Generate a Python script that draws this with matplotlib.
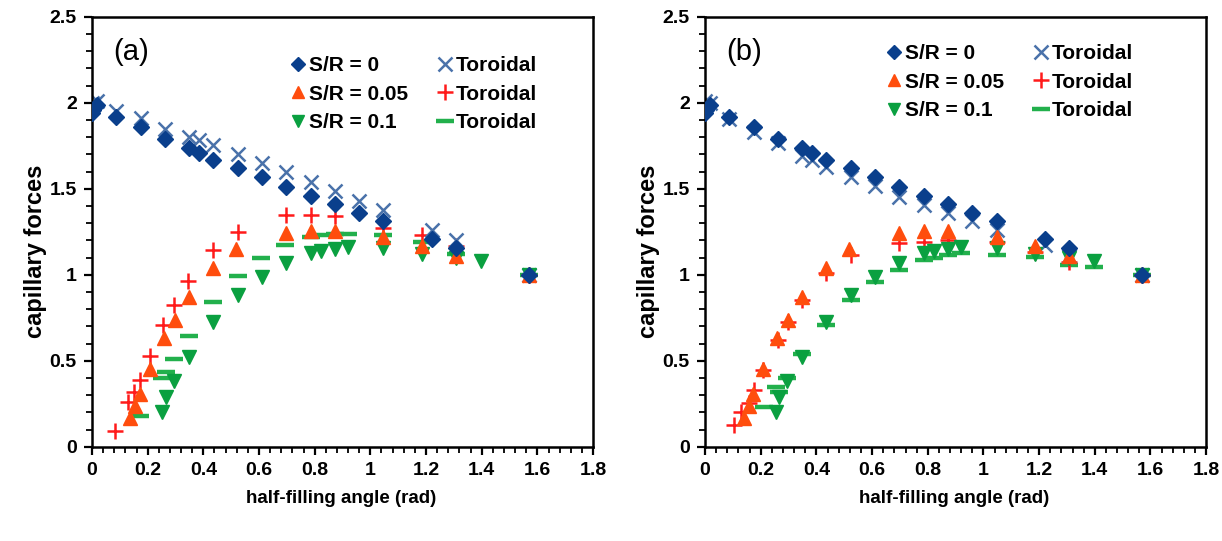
import numpy as np
import matplotlib.pyplot as plt
from matplotlib.ticker import MultipleLocator

plt.rcParams['font.family'] = ['Liberation Sans', 'DejaVu Sans']

# sphere model (same in both panels)
th_s0 = [0.0, 0.005, 0.017, 0.087, 0.175, 0.262, 0.349, 0.384, 0.436, 0.524, 0.611, 0.698,
         0.785, 0.873, 0.96, 1.047, 1.222, 1.309, 1.571]
f_s0 = [1.94, 1.96, 1.99, 1.92, 1.86, 1.79, 1.74, 1.71, 1.67, 1.62, 1.57, 1.51,
        1.46, 1.41, 1.36, 1.31, 1.21, 1.155, 1.0]
th_s05 = [0.138, 0.156, 0.173, 0.207, 0.26, 0.297, 0.348, 0.435, 0.517, 0.698, 0.785, 0.873,
          1.047, 1.187, 1.309, 1.571]
f_s05 = [0.17, 0.24, 0.31, 0.45, 0.63, 0.74, 0.87, 1.04, 1.15, 1.245, 1.255, 1.255,
         1.22, 1.17, 1.11, 1.0]
th_s1 = [0.253, 0.267, 0.296, 0.349, 0.436, 0.524, 0.611, 0.698, 0.785, 0.823, 0.873, 0.92,
         1.047, 1.187, 1.309, 1.396, 1.571]
f_s1 = [0.205, 0.29, 0.385, 0.525, 0.728, 0.884, 0.99, 1.07, 1.126, 1.141, 1.149, 1.16,
        1.155, 1.12, 1.095, 1.08, 1.0]

# toroidal approximation, panel (a)
tha_t0 = [0.0, 0.017, 0.087, 0.175, 0.262, 0.349, 0.384, 0.436, 0.524, 0.611, 0.698, 0.785,
          0.873, 0.96, 1.047, 1.222, 1.309, 1.571]
fa_t0 = [2.0, 2.01, 1.95, 1.91, 1.85, 1.80, 1.785, 1.756, 1.70, 1.65, 1.595, 1.54,
         1.49, 1.43, 1.375, 1.26, 1.20, 1.0]
tha_t05 = [0.083, 0.131, 0.15, 0.171, 0.207, 0.255, 0.293, 0.344, 0.435, 0.523, 0.698, 0.785,
           0.873, 1.047, 1.184, 1.309, 1.571]
fa_t05 = [0.09, 0.26, 0.32, 0.39, 0.53, 0.71, 0.826, 0.967, 1.145, 1.25, 1.35, 1.35,
          1.34, 1.27, 1.233, 1.165, 1.0]
tha_t1 = [0.173, 0.25, 0.267, 0.293, 0.348, 0.435, 0.523, 0.607, 0.694, 0.785, 0.823, 0.873,
          0.92, 1.047, 1.184, 1.309, 1.571]
fa_t1 = [0.182, 0.40, 0.438, 0.51, 0.645, 0.84, 0.994, 1.097, 1.174, 1.22, 1.23, 1.238,
         1.24, 1.233, 1.19, 1.12, 1.0]

# toroidal approximation, panel (b)
thb_t0 = [0.0, 0.017, 0.087, 0.175, 0.262, 0.349, 0.384, 0.436, 0.524, 0.611, 0.698, 0.785,
          0.873, 0.96, 1.047, 1.222, 1.309, 1.571]
fb_t0 = [2.01, 2.0, 1.905, 1.83, 1.765, 1.69, 1.67, 1.626, 1.57, 1.517, 1.455, 1.407,
         1.358, 1.31, 1.262, 1.174, 1.11, 1.0]
thb_t05 = [0.105, 0.129, 0.156, 0.175, 0.207, 0.262, 0.297, 0.349, 0.436, 0.524, 0.698, 0.785,
           0.873, 1.047, 1.187, 1.309, 1.571]
fb_t05 = [0.128, 0.205, 0.254, 0.33, 0.448, 0.622, 0.728, 0.855, 1.01, 1.116, 1.184, 1.19,
          1.2, 1.19, 1.135, 1.077, 1.0]
thb_t1 = [0.21, 0.255, 0.267, 0.296, 0.349, 0.436, 0.524, 0.611, 0.698, 0.785, 0.823, 0.873,
          0.92, 1.047, 1.187, 1.309, 1.396, 1.571]
fb_t1 = [0.23, 0.35, 0.32, 0.40, 0.54, 0.71, 0.855, 0.96, 1.03, 1.087, 1.10, 1.116,
         1.126, 1.116, 1.103, 1.058, 1.048, 1.0]

navy = '#0a3f8c'
steel = '#4a72aa'
orange = '#ff4d0d'
red = '#ff1a1a'
green = '#0aa040'
lgreen = '#22b04c'

fig = plt.figure(figsize=(12.22, 5.41), dpi=100)
ax_a = fig.add_axes([0.0753, 0.174, 0.410, 0.795])
ax_b = fig.add_axes([0.5770, 0.174, 0.410, 0.795])

panels = [(ax_a, '(a)', tha_t0, fa_t0, tha_t05, fa_t05, tha_t1, fa_t1, (0.40, 0.82)),
          (ax_b, '(b)', thb_t0, fb_t0, thb_t05, fb_t05, thb_t1, fb_t1, (0.366, 0.848))]

for ax, tag, x0, y0, x05, y05, x1, y1, lpos in panels:
    ax.plot(x1, y1, ls='none', marker='_', ms=13, mew=3.2, color=lgreen, zorder=2)
    ax.plot(x05, y05, ls='none', marker='+', ms=12, mew=1.8, color=red, zorder=2)
    ax.plot(x0, y0, ls='none', marker='x', ms=10, mew=1.8, color=steel, zorder=2)
    ax.plot(th_s1, f_s1, ls='none', marker='v', ms=10, color=green, mec=green, zorder=3)
    ax.plot(th_s05, f_s05, ls='none', marker='^', ms=10, color=orange, mec=orange, zorder=3)
    ax.plot(th_s0, f_s0, ls='none', marker='D', ms=8.5, color=navy, mec=navy, zorder=4)

    # legend handles with the same look
    lx = ax.plot([], [], ls='none', marker='x', ms=10, mew=1.8, color=steel)[0]
    lp = ax.plot([], [], ls='none', marker='+', ms=12, mew=1.8, color=red)[0]
    lm = ax.plot([], [], ls='none', marker='_', ms=13, mew=3.2, color=lgreen)[0]
    lh0 = ax.plot([], [], ls='none', marker='D', ms=7, color=navy)[0]
    lh05 = ax.plot([], [], ls='none', marker='^', ms=9, color=orange)[0]
    lh1 = ax.plot([], [], ls='none', marker='v', ms=9, color=green)[0]
    ax.legend([lh0, lh05, lh1, lx, lp, lm],
              ['S/R = 0', 'S/R = 0.05', 'S/R = 0.1', 'Toroidal', 'Toroidal', 'Toroidal'],
              ncol=2, loc='center left', bbox_to_anchor=lpos, frameon=False,
              prop={'weight': 'bold', 'size': 15}, handlelength=0.5, handletextpad=0.3,
              columnspacing=1.5, labelspacing=0.46, borderpad=0, borderaxespad=0)

    ax.text(0.042, 0.918, tag, transform=ax.transAxes, fontsize=21, va='center', ha='left')

    ax.set_xlim(0, 1.8)
    ax.set_ylim(0, 2.5)
    ax.xaxis.set_minor_locator(MultipleLocator(0.04))
    ax.yaxis.set_minor_locator(MultipleLocator(0.1))
    ax.set_xticks(np.arange(0, 1.81, 0.2))
    ax.set_xticklabels(['0', '0.2', '0.4', '0.6', '0.8', '1', '1.2', '1.4', '1.6', '1.8'])
    ax.set_yticks(np.arange(0, 2.51, 0.5))
    ax.set_yticklabels(['0', '0.5', '1', '1.5', '2', '2.5'])
    ax.tick_params(which='major', direction='out', length=6, width=1.6,
                   labelsize=14, pad=5, top=False, right=False)
    ax.tick_params(which='minor', direction='out', length=4, width=1.3, top=False, right=False)
    for lab in ax.get_xticklabels() + ax.get_yticklabels():
        lab.set_fontweight('bold')
    for s in ax.spines.values():
        s.set_linewidth(1.8)
    ax.set_xlabel('half-filling angle (rad)', fontsize=13.5, fontweight='bold', va='center')
    ax.set_ylabel('capillary forces', fontsize=17, fontweight='bold', va='center')
    ax.xaxis.set_label_coords(0.497, -0.12)
    ax.yaxis.set_label_coords(-0.113, 0.455)

fig.savefig('out.png', dpi=100)
